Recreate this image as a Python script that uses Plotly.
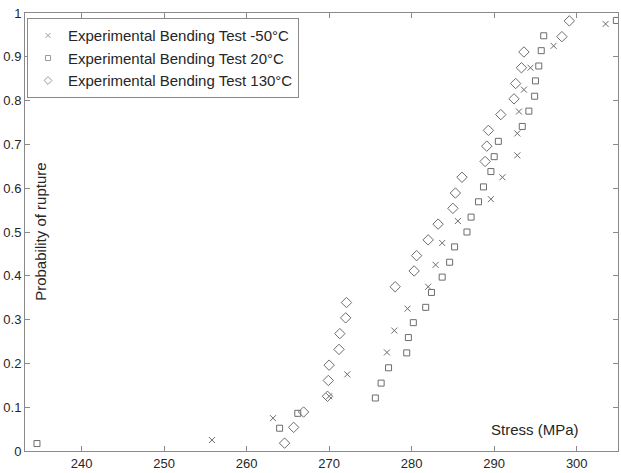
import plotly.graph_objects as go

# Experimental Bending Test -50°C (crosses)
stress_m50 = [255.8, 263.2, 270.0, 272.2, 277.0, 277.9, 279.5, 282.0, 282.9, 283.7,
              285.6, 289.6, 291.0, 292.8, 292.8, 293.0, 293.6, 294.4, 297.2, 303.5]
prob_m50 = [0.025, 0.075, 0.125, 0.175, 0.225, 0.275, 0.325, 0.375, 0.425, 0.475,
            0.525, 0.575, 0.625, 0.675, 0.725, 0.775, 0.825, 0.875, 0.925, 0.975]

# Experimental Bending Test 20°C (squares)
stress_20 = [234.6, 264.0, 266.2, 275.6, 276.3, 277.2, 279.4, 279.6, 280.2, 281.7,
             282.4, 283.7, 284.6, 285.2, 286.7, 287.2, 288.1, 288.7, 289.6, 290.0,
             290.5, 293.4, 294.2, 294.9, 295.0, 295.4, 295.7, 296.0, 304.8]
prob_20 = [0.017, 0.052, 0.086, 0.121, 0.155, 0.190, 0.224, 0.259, 0.293, 0.328,
           0.362, 0.397, 0.431, 0.466, 0.500, 0.534, 0.569, 0.603, 0.638, 0.672,
           0.707, 0.741, 0.776, 0.810, 0.845, 0.879, 0.914, 0.948, 0.983]

# Experimental Bending Test 130°C (diamonds)
stress_130 = [264.6, 265.7, 266.9, 269.8, 269.9, 270.0, 271.2, 271.3, 272.0, 272.1,
              278.0, 280.3, 280.6, 282.0, 283.2, 285.0, 285.3, 286.1, 288.9, 289.1,
              289.3, 290.8, 292.4, 292.6, 293.3, 293.6, 298.2, 299.1]
prob_130 = [0.018, 0.054, 0.089, 0.125, 0.161, 0.196, 0.232, 0.268, 0.304, 0.339,
            0.375, 0.411, 0.446, 0.482, 0.518, 0.554, 0.589, 0.625, 0.661, 0.696,
            0.732, 0.768, 0.804, 0.839, 0.875, 0.911, 0.946, 0.982]

series_names = ["Experimental Bending Test -50°C",
                "Experimental Bending Test 20°C",
                "Experimental Bending Test 130°C"]

x_ticks = [240, 250, 260, 270, 280, 290, 300]
y_ticks = [0, 0.1, 0.2, 0.3, 0.4, 0.5, 0.6, 0.7, 0.8, 0.9, 1]
y_tick_text = ["0", "0.1", "0.2", "0.3", "0.4", "0.5", "0.6", "0.7", "0.8", "0.9", "1"]

MC = "#6c6c6c"
TXT = "#262626"
AX = "#8a8a8a"
FONT = "Liberation Sans, Arial, sans-serif"

datasets = [(stress_m50, prob_m50, "x-thin-open", 6, 5),
            (stress_20, prob_20, "square-open", 6, 5),
            (stress_130, prob_130, "diamond-open", 8, 6)]

fig = go.Figure()
for (xs, ys, sym, sz, lsz), name in zip(datasets, series_names):
    fig.add_trace(go.Scatter(x=xs, y=ys, mode="markers", name=name, showlegend=False,
                             marker=dict(symbol=sym, size=sz, color=MC,
                                         line=dict(color=MC, width=1))))
for (xs, ys, sym, sz, lsz), name in zip(datasets, series_names):
    fig.add_trace(go.Scatter(x=[None], y=[None], mode="markers", name=name,
                             marker=dict(symbol=sym, size=lsz, color="#9a9a9a",
                                         line=dict(color="#9a9a9a", width=1))))

axis_common = dict(showline=True, linecolor=AX, linewidth=1, mirror="ticks",
                   ticks="inside", ticklen=5, tickcolor=AX, showgrid=False,
                   zeroline=False, automargin=False,
                   tickfont=dict(family=FONT, size=13, color=TXT))

fig.update_layout(
    template="none",
    width=621, height=473,
    margin=dict(l=25, r=3, t=13, b=22, autoexpand=False),
    plot_bgcolor="white", paper_bgcolor="white",
    font=dict(family=FONT, color=TXT),
    xaxis=dict(range=[233.15, 305.0], tickvals=x_ticks, **axis_common),
    yaxis=dict(range=[0, 1], tickvals=y_ticks, ticktext=y_tick_text, **axis_common),
    legend=dict(x=0.0034, y=0.988, xanchor="left", yanchor="top",
                bgcolor="white", bordercolor=AX, borderwidth=1,
                font=dict(family=FONT, size=15, color=TXT),
                tracegroupgap=0),
    showlegend=True,
    annotations=[
        dict(text="Probability of rupture", xref="paper", yref="paper",
             x=0.025, y=0.5, textangle=-90, showarrow=False,
             xanchor="center", yanchor="middle",
             font=dict(family=FONT, size=15, color=TXT)),
        dict(text="Stress (MPa)", xref="paper", yref="paper",
             x=0.86, y=0.048, showarrow=False,
             xanchor="center", yanchor="middle",
             font=dict(family=FONT, size=15, color=TXT)),
    ],
)

# Remove the default 8px page-body margin so the figure fills the window exactly.
fig.write_html("out.html", config={"displayModeBar": False},
               post_script="document.body.style.margin='0px';")
